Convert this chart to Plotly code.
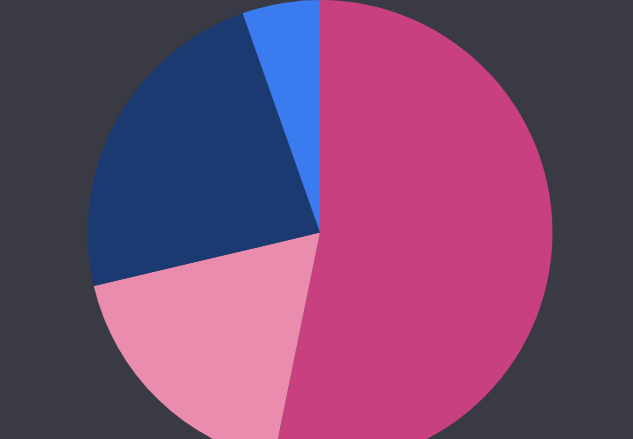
import plotly.graph_objects as go

labels = ["A", "B", "C", "D"]
values = [53.2, 18.1, 23.3, 5.4]
colors = ["#C94081", "#E98CAE", "#1C3A72", "#3B7BF0"]

fig = go.Figure(go.Pie(
    labels=labels,
    values=values,
    sort=False,
    direction="clockwise",
    rotation=0,
    marker=dict(colors=colors, line=dict(width=0)),
    textinfo="none",
    hoverinfo="label+percent",
    showlegend=False,
))

fig.update_layout(
    width=640,
    height=465,
    margin=dict(l=0, r=0, t=0, b=0),
    paper_bgcolor="#3A3A44",
    plot_bgcolor="#3A3A44",
)

fig.write_html(
    "out.html",
    config={"displayModeBar": False},
    post_script="document.body.style.margin='0';document.body.style.overflow='hidden';document.body.style.background='#3A3A44';",
)
